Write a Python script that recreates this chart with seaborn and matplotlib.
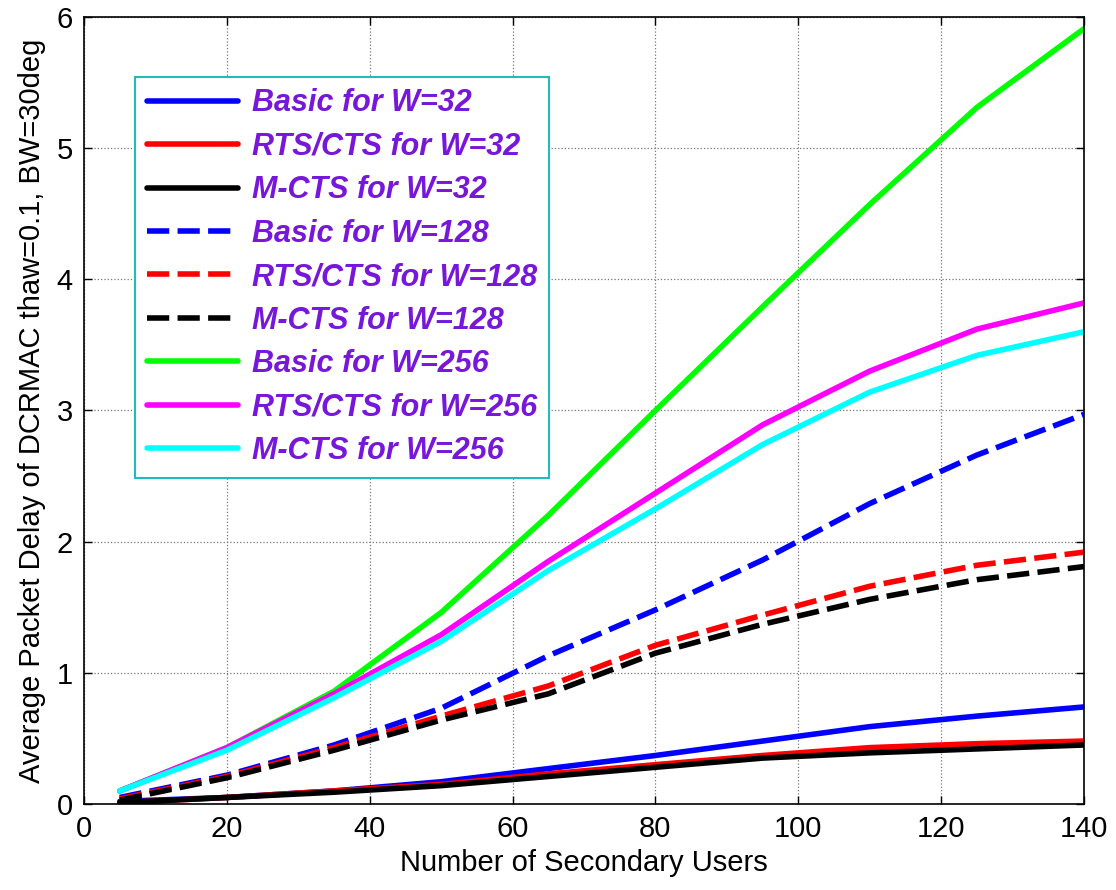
import pandas as pd
import seaborn as sns
import matplotlib.pyplot as plt

# numero de usuarios secundarios (eixo x)
usuarios = [5, 20, 35, 50, 65, 80, 95, 110, 125, 140]

# atraso medio
basic_32 = [0.02, 0.05, 0.10, 0.17, 0.27, 0.37, 0.48, 0.59, 0.67, 0.74]
rts_32 = [0.01, 0.05, 0.10, 0.15, 0.23, 0.30, 0.37, 0.43, 0.46, 0.48]
mcts_32 = [0.01, 0.05, 0.09, 0.14, 0.21, 0.28, 0.35, 0.39, 0.42, 0.45]
basic_128 = [0.05, 0.22, 0.45, 0.73, 1.13, 1.48, 1.86, 2.29, 2.66, 2.97]
rts_128 = [0.04, 0.21, 0.43, 0.67, 0.90, 1.21, 1.44, 1.66, 1.82, 1.92]
mcts_128 = [0.03, 0.20, 0.41, 0.64, 0.84, 1.15, 1.37, 1.56, 1.71, 1.81]
basic_256 = [0.10, 0.43, 0.86, 1.46, 2.20, 3.00, 3.79, 4.57, 5.31, 5.91]
rts_256 = [0.10, 0.43, 0.84, 1.29, 1.85, 2.37, 2.89, 3.30, 3.62, 3.82]
mcts_256 = [0.10, 0.41, 0.81, 1.24, 1.78, 2.25, 2.74, 3.14, 3.42, 3.60]

nomes = ['Basic for W=32', 'RTS/CTS for W=32', 'M-CTS for W=32',
         'Basic for W=128', 'RTS/CTS for W=128', 'M-CTS for W=128',
         'Basic for W=256', 'RTS/CTS for W=256', 'M-CTS for W=256']
series = [basic_32, rts_32, mcts_32, basic_128, rts_128, mcts_128,
          basic_256, rts_256, mcts_256]
cores = ['#0000FF', '#FF0000', '#000000', '#0000FF', '#FF0000', '#000000',
         '#00FF00', '#FF00FF', '#00FFFF']
tracejado = ['', '', '', (4, 1.5), (4, 1.5), (4, 1.5), '', '', '']

# tabela longa para o seaborn
linhas = []
for nome, valores in zip(nomes, series):
    for u, v in zip(usuarios, valores):
        linhas.append({'usuarios': u, 'atraso': v, 'curva': nome})
df = pd.DataFrame(linhas)

sns.set_style('ticks')
plt.rcParams['font.family'] = ['Liberation Sans', 'DejaVu Sans']
plt.rcParams['text.color'] = 'black'
plt.rcParams['axes.labelcolor'] = 'black'
plt.rcParams['xtick.color'] = 'black'
plt.rcParams['ytick.color'] = 'black'

fig, ax = plt.subplots(figsize=(11.16, 8.9), dpi=100)
fig.subplots_adjust(left=0.0753, right=0.9713, bottom=0.0966, top=0.981)

sns.lineplot(data=df, x='usuarios', y='atraso', hue='curva', style='curva',
             hue_order=nomes, style_order=nomes,
             palette=dict(zip(nomes, cores)), dashes=dict(zip(nomes, tracejado)),
             linewidth=4, sort=False, legend=False, ax=ax)

ax.set_xlim(0, 140)
ax.set_ylim(0, 6)
ax.set_xticks(range(0, 141, 20))
ax.set_yticks(range(0, 7))
ax.set_xlabel('Number of Secondary Users', fontsize=21, labelpad=4)
ax.set_ylabel('Average Packet Delay of DCRMAC thaw=0.1, BW=30deg', fontsize=21, labelpad=8)
ax.tick_params(axis='both', labelsize=21, direction='in', length=6, width=1,
               top=True, right=True, pad=8, colors='black')
ax.grid(True, linestyle=':', color='#777777', linewidth=0.9)
for lado in ax.spines.values():
    lado.set_linewidth(1.2)
    lado.set_color('black')

# legenda
handles = ax.lines[:len(nomes)]
leg = ax.legend(handles, nomes, loc='upper left', bbox_to_anchor=(0.051, 0.924),
                borderaxespad=0, fancybox=False, framealpha=1, handlelength=3.0,
                handletextpad=0.45, labelspacing=0.44, borderpad=0.38,
                prop={'size': 22, 'weight': 'bold', 'style': 'italic'})
leg.get_frame().set_edgecolor('#22BBBB')
leg.get_frame().set_linewidth(1.5)
for t in leg.get_texts():
    t.set_color('#7617D9')

fig.savefig('out.png', dpi=100)
